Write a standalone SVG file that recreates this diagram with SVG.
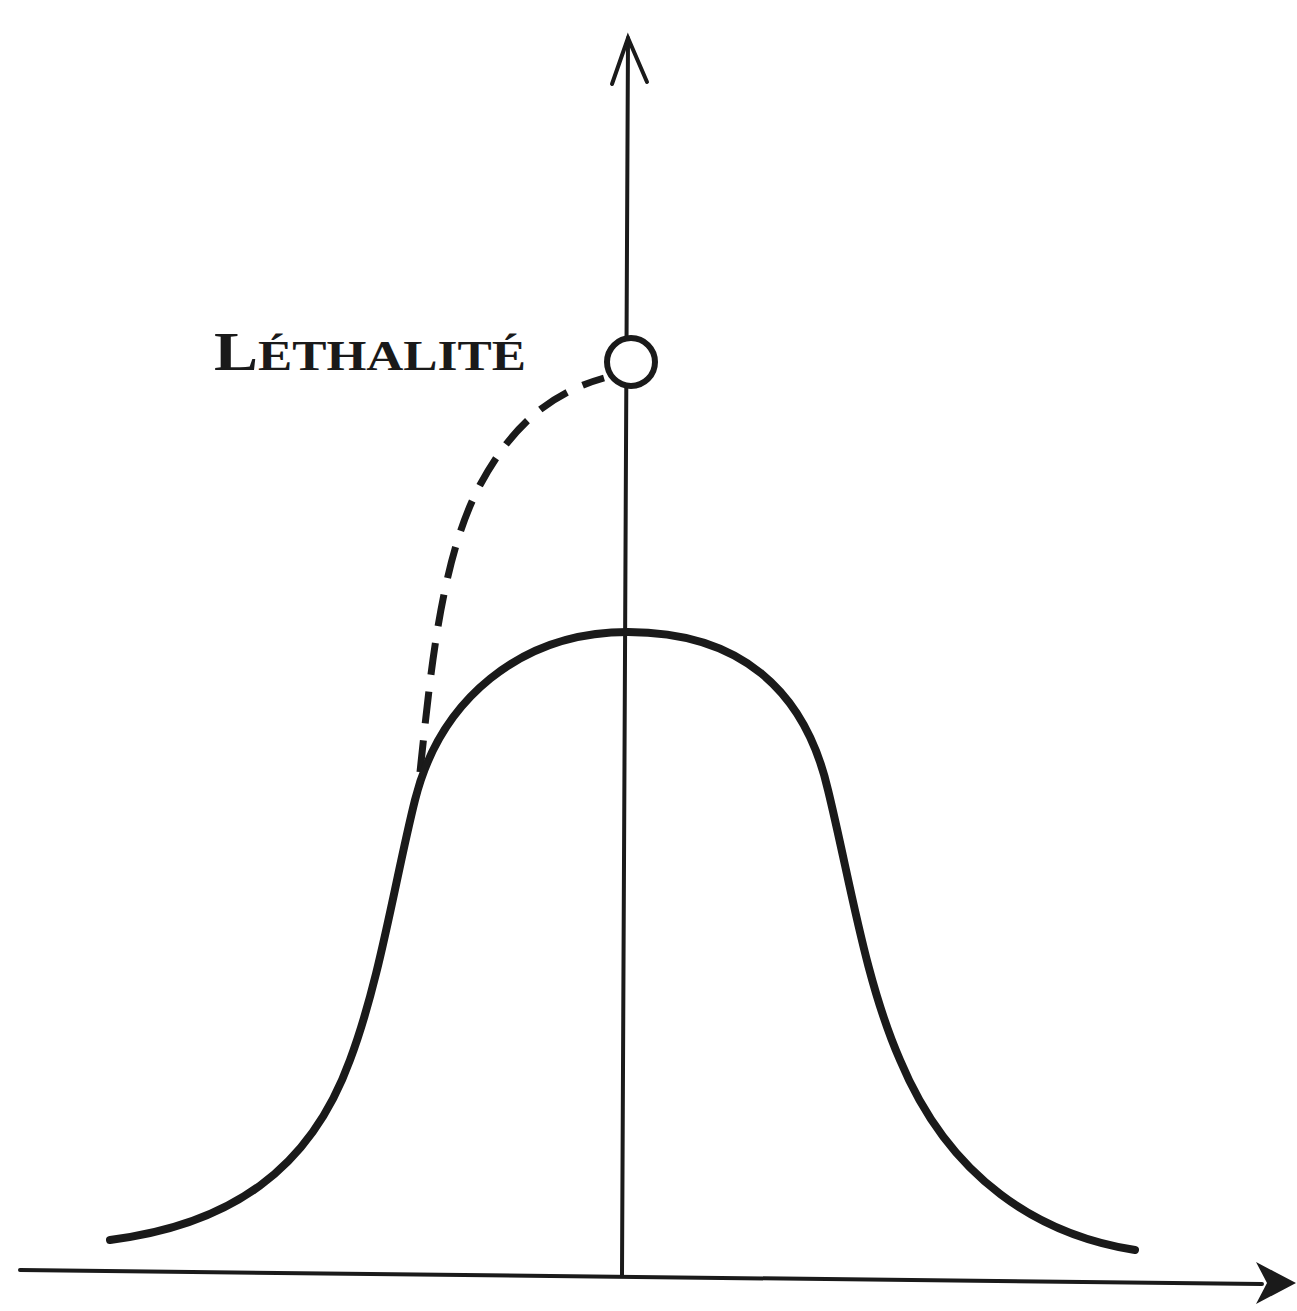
<svg xmlns="http://www.w3.org/2000/svg" width="1297" height="1311" viewBox="0 0 1297 1311">
<style>
.ax{fill:none;stroke:#1a1a1a;stroke-width:4;stroke-linecap:round}
.curve{fill:none;stroke:#1a1a1a;stroke-width:8;stroke-linecap:round}
.dash{fill:none;stroke:#1a1a1a;stroke-width:7;stroke-dasharray:32 17}
.lbl{font-family:"Liberation Serif",serif;font-weight:bold;fill:#1a1a1a}
</style>
<rect width="1297" height="1311" fill="#fff"/>
<g id="connectors">
<path class="ax" d="M628,38 L622,1275"/>
<path class="ax" d="M612,84 L628,38 L647,82" stroke-width="5"/>
<path class="ax" d="M20,1270 L1262,1284"/>
<path d="M1256,1262 L1296,1283 L1256,1304 L1267,1283 Z" fill="#1a1a1a"/>
<path class="dash" d="M420,772 C430,680 440,560 480,485 C515,420 555,392 604,378"/>
</g>
<g id="bell">
<path class="curve" d="M110,1240 C230,1225 310,1170 350,1060 C380,980 395,880 415,800 C440,700 520,632 628,632 C740,632 805,690 828,790 C850,880 865,980 900,1060 C950,1180 1040,1235 1135,1250"/>
</g>
<g id="lethalite">
<circle cx="631" cy="362" r="24" fill="#fff" stroke="#1a1a1a" stroke-width="6"/>
<text class="lbl" x="214" y="370" textLength="312" lengthAdjust="spacingAndGlyphs"><tspan font-size="54">L</tspan><tspan font-size="42">ÉTHALITÉ</tspan></text>
</g>
</svg>
